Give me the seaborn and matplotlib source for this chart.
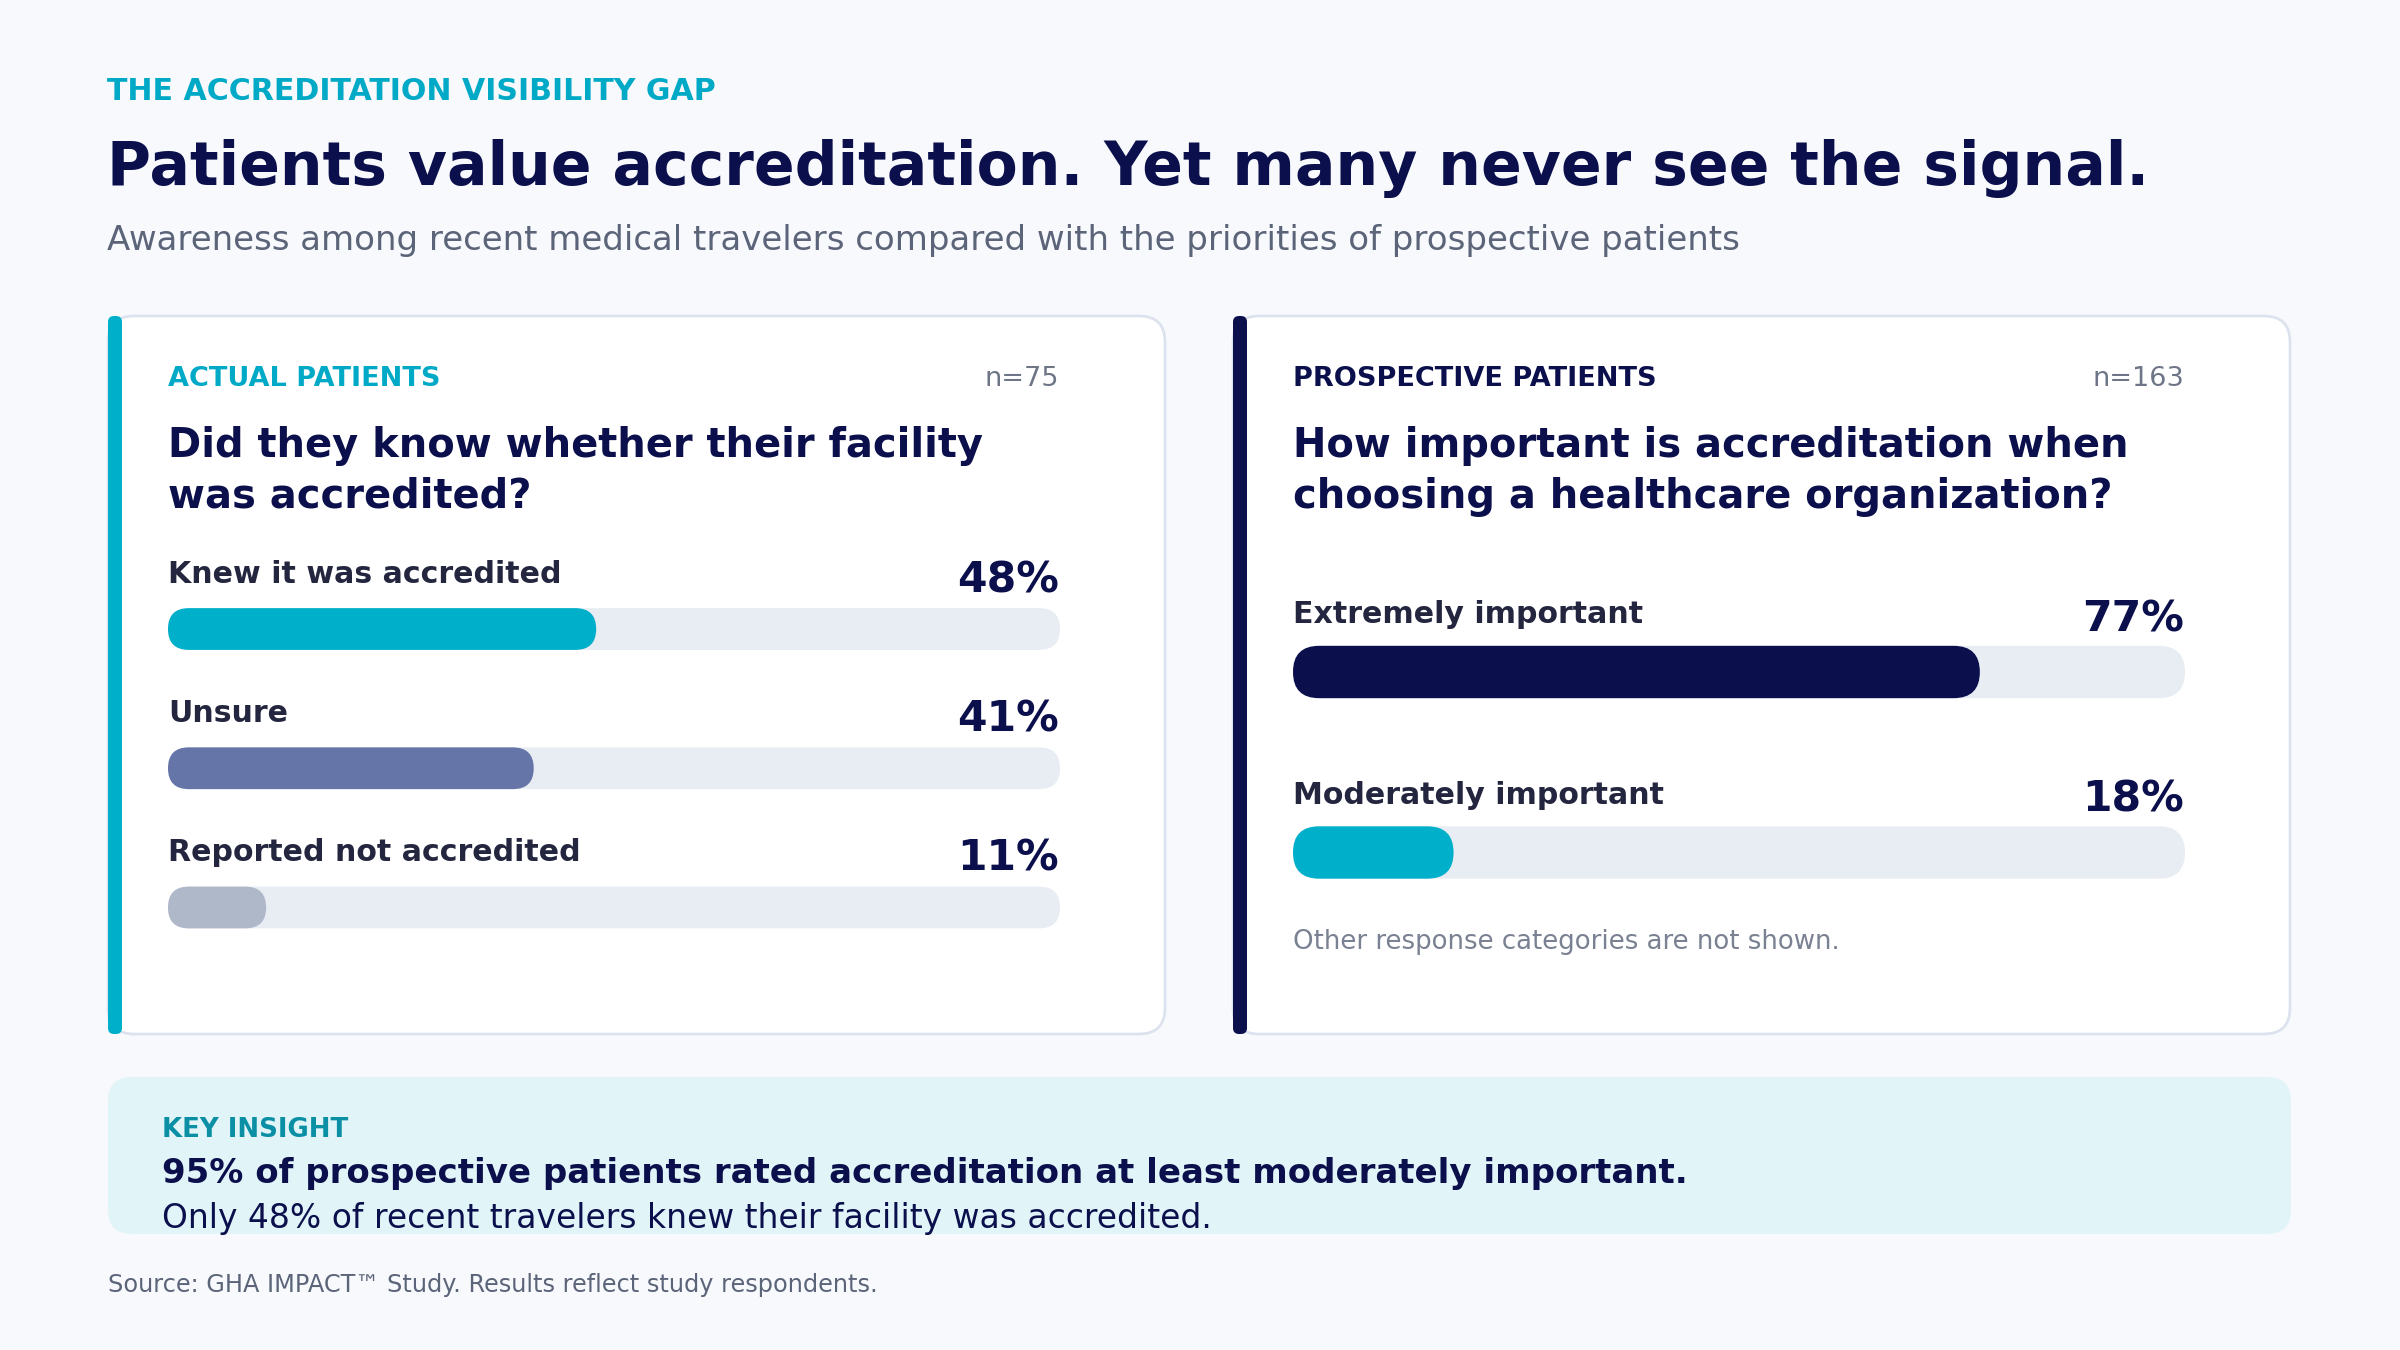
import matplotlib
matplotlib.use("Agg")
import matplotlib.pyplot as plt
from matplotlib.patches import FancyBboxPatch
import pandas as pd
import seaborn as sns

# DATA
actual_labels = ["Knew it was accredited", "Unsure", "Reported not accredited"]
actual_values = [48, 41, 11]
actual_n = 75

prospective_labels = ["Extremely important", "Moderately important"]
prospective_values = [77, 18]
prospective_n = 163

# COLOURS
BG = "#F7F9FC"
CYAN = "#00AFCA"
NAVY = "#0B0F4C"
LABEL = "#23263E"
SLATE = "#6575A7"
PALE = "#AEB8C9"
TRACK = "#E8ECF3"
BORDER = "#DCE2EE"
GREY = "#5B6478"

W, H = 2400, 1350
DPI = 150

sns.set_theme(style="white")
plt.rcParams["font.family"] = ["DejaVu Sans"]

fig = plt.figure(figsize=(W / DPI, H / DPI), dpi=DPI, facecolor=BG)

# background canvas in pixel coords (y down)
bg = fig.add_axes([0, 0, 1, 1])
bg.set_xlim(0, W)
bg.set_ylim(H, 0)
bg.axis("off")
bg.set_facecolor(BG)


def box(x0, y0, x1, y1, color, r=24, ec="none", lw=0, z=1):
    bg.add_patch(FancyBboxPatch((x0, y0), x1 - x0, y1 - y0,
                                boxstyle=f"round,pad=0,rounding_size={r}",
                                fc=color, ec=ec, lw=lw, zorder=z))


def px_axes(x0, y0, x1, y1):
    return fig.add_axes([x0 / W, 1 - y1 / H, (x1 - x0) / W, (y1 - y0) / H])


def round_bars(ax):
    # swap seaborn's rectangles for pill shapes
    p0 = ax.transData.transform((0, 0))
    p1 = ax.transData.transform((1, 1))
    ppx_x = abs(p1[0] - p0[0])
    ppx_y = abs(p1[1] - p0[1])
    for rect in list(ax.patches):
        x, y = rect.get_x(), rect.get_y()
        w, h = rect.get_width(), rect.get_height()
        if w <= 0:
            rect.remove()
            continue
        r_px = abs(h) * ppx_y / 2
        pill = FancyBboxPatch((x, y), w, h,
                              boxstyle=f"round,pad=0,rounding_size={r_px / ppx_x}",
                              mutation_aspect=ppx_x / ppx_y,
                              fc=rect.get_facecolor(), ec="none", zorder=rect.get_zorder())
        rect.remove()
        ax.add_patch(pill)


def bar_panel(rect, labels, values, colors, bar_w, lab_off, pct_off):
    ax = px_axes(*rect)
    df = pd.DataFrame({"label": labels, "value": values})
    sns.barplot(data=df.assign(value=100), x="value", y="label", orient="h",
                color=TRACK, saturation=1, width=bar_w, ax=ax, zorder=1)
    sns.barplot(data=df, x="value", y="label", hue="label", palette=colors,
                saturation=1, orient="h", width=bar_w, legend=False, ax=ax, zorder=2)
    ax.set_xlim(0, 100)
    ax.set_ylim(len(labels) - 0.5, -0.5)
    ax.axis("off")
    ax.patch.set_alpha(0)
    round_bars(ax)
    for i, (lab, v) in enumerate(zip(labels, values)):
        ax.annotate(lab, xy=(0, i), xytext=(0, lab_off), textcoords="offset pixels",
                    ha="left", va="baseline", fontsize=14.4, fontweight="bold", color=LABEL)
        ax.annotate(f"{v}%", xy=(100, i), xytext=(-1, pct_off), textcoords="offset pixels",
                    ha="right", va="baseline", fontsize=20.4, fontweight="bold", color=NAVY)
    return ax


# HEADER
bg.text(107, 100, "THE ACCREDITATION VISIBILITY GAP", fontsize=14.4, fontweight="bold",
        color="#00A9C6", va="baseline")
bg.text(107, 185, "Patients value accreditation. Yet many never see the signal.",
        fontsize=28.8, fontweight="bold", color=NAVY, va="baseline")
bg.text(107, 250, "Awareness among recent medical travelers compared with the priorities of prospective patients",
        fontsize=16.3, color=GREY, va="baseline")

# CARDS
for x0, accent, head, head_c, n, q in [
    (108, CYAN, "ACTUAL PATIENTS", "#00A9C6", actual_n,
     "Did they know whether their facility\nwas accredited?"),
    (1233, NAVY, "PROSPECTIVE PATIENTS", NAVY, prospective_n,
     "How important is accreditation when\nchoosing a healthcare organization?"),
]:
    box(x0, 316, x0 + 1057, 1034, "white", r=26, ec=BORDER, lw=1.3, z=1)
    box(x0, 316, x0 + 14, 1034, accent, r=6, z=2)
    bg.text(x0 + 60, 386, head, fontsize=13, fontweight="bold", color=head_c, va="baseline")
    bg.text(x0 + 951, 386, f"n={n}", fontsize=13, color="#6E7587", va="baseline", ha="right")
    # multi-line text: baseline refers to the last line
    bg.text(x0 + 60, 508, q, fontsize=19.2, fontweight="bold", color=NAVY, va="baseline",
            linespacing=1.35)

bar_panel((168, 559.4, 1060, 977.1), actual_labels, actual_values,
          [CYAN, SLATE, PALE], 0.30, 46.5, 36.5)
bar_panel((1293, 581.75, 2185, 942.75), prospective_labels, prospective_values,
          [NAVY, CYAN], 0.29, 49, 41)

bg.text(1293, 949, "Other response categories are not shown.", fontsize=12.5,
        color="#7A8192", va="baseline")

# KEY INSIGHT
box(108, 1077, 2291, 1234, "#E1F5F9", r=24, z=1)
bg.text(162, 1137, "KEY INSIGHT", fontsize=12.5, fontweight="bold", color="#0A8FA5", va="baseline")
bg.text(162, 1183, "95% of prospective patients rated accreditation at least moderately important.",
        fontsize=16.3, fontweight="bold", color=NAVY, va="baseline")
bg.text(162, 1228, "Only 48% of recent travelers knew their facility was accredited.",
        fontsize=15.8, color=NAVY, va="baseline")

bg.text(108, 1292, "Source: GHA IMPACT\u2122 Study. Results reflect study respondents.",
        fontsize=11.5, color=GREY, va="baseline")

fig.savefig("out.png", dpi=DPI, facecolor=BG)
